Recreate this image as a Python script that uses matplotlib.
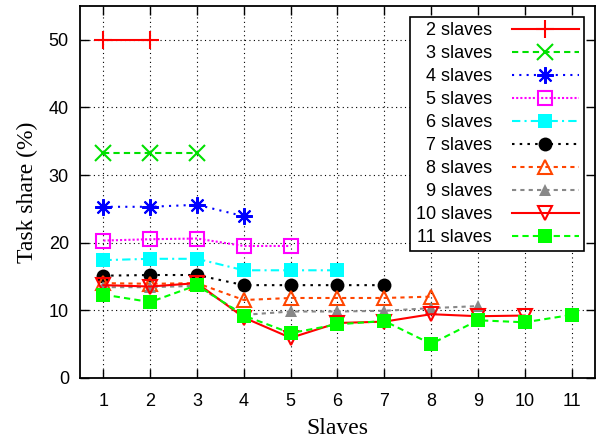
import matplotlib
matplotlib.use('Agg')
from matplotlib import pyplot as plt

plt.rcParams['font.family'] = ['Liberation Sans', 'DejaVu Sans']

slaves = [1, 2, 3, 4, 5, 6, 7, 8, 9, 10, 11]
labels = ['2 slaves', '3 slaves', '4 slaves', '5 slaves', '6 slaves',
          '7 slaves', '8 slaves', '9 slaves', '10 slaves', '11 slaves']

s2 = [50.0, 50.0]
s3 = [33.3, 33.3, 33.3]
s4 = [25.3, 25.3, 25.6, 23.9]
s5 = [20.3, 20.5, 20.6, 19.5, 19.5]
s6 = [17.4, 17.6, 17.6, 15.9, 15.9, 15.9]
s7 = [15.1, 15.2, 15.2, 13.7, 13.7, 13.7, 13.7]
s8 = [14.0, 13.9, 14.0, 11.5, 11.8, 11.8, 11.8, 12.0]
s9 = [13.4, 13.4, 13.6, 9.3, 9.8, 9.8, 9.9, 10.3, 10.6]
s10 = [13.7, 13.5, 14.0, 8.9, 5.9, 8.1, 8.3, 9.4, 9.1, 9.2]
s11 = [12.3, 11.2, 13.7, 9.2, 6.6, 7.9, 8.4, 5.0, 8.5, 8.2, 9.3]

series = [s2, s3, s4, s5, s6, s7, s8, s9, s10, s11]

styles = [
    dict(color='#ff0000', ls='-', marker='+', mfc='none', ms=13, mew=1.5),
    dict(color='#00e000', ls=(0, (3, 2)), marker='x', mfc='none', ms=11, mew=1.5),
    dict(color='#0000ff', ls=(0, (1, 2.5)), marker=(8, 2, 0), mfc='none', ms=12, mew=1.5),
    dict(color='#ff00ff', ls=(0, (1, 1)), marker='s', mfc='none', ms=10, mew=1.5),
    dict(color='#00ffff', ls=(0, (4, 2, 1, 2)), marker='s', ms=10, mew=0),
    dict(color='#000000', ls=(0, (1.2, 2.5)), marker='o', ms=10, mew=0),
    dict(color='#ff4500', ls=(0, (2, 2)), marker='^', mfc='none', ms=10, mew=1.5),
    dict(color='#888888', ls=(0, (2, 2)), marker='^', ms=9, mew=0),
    dict(color='#ff0000', ls='-', marker='v', mfc='none', ms=10, mew=1.5),
    dict(color='#00ff00', ls=(0, (3, 2)), marker='s', ms=10, mew=0),
]

fig = plt.figure(figsize=(5.97, 4.40), dpi=100)
ax = fig.add_axes([0.134, 0.1416, 0.8626, 0.8444])

for vals, lab, st in zip(series, labels, styles):
    ax.plot(slaves[:len(vals)], vals, label=lab, lw=1.5, **st)

ax.set_xlim(0.5, 11.5)
ax.set_ylim(0, 55)
ax.set_xticks(slaves)
ax.set_yticks([0, 10, 20, 30, 40, 50])
ax.grid(True, color='black', ls=(0, (1, 3)), lw=0.8)
ax.tick_params(direction='in', length=6.5, width=1, top=True, right=True,
               labelsize=13)
ax.tick_params(axis='x', pad=11)
ax.tick_params(axis='y', pad=8)
for sp in ax.spines.values():
    sp.set_linewidth(1.3)

ax.set_xlabel('Slaves', family=['Liberation Serif'], fontsize=17, labelpad=6)
ax.set_ylabel('Task share (%)', family=['Liberation Serif'], fontsize=17, labelpad=8)

leg = ax.legend(loc='upper right', markerfirst=False, fancybox=False,
                framealpha=1, edgecolor='black', fontsize=13,
                handlelength=3.7, labelspacing=0.33, borderaxespad=0.6,
                handletextpad=1.1, borderpad=0.3)
leg.get_frame().set_linewidth(1.2)

plt.savefig('out.png', dpi=100)
plt.close()
